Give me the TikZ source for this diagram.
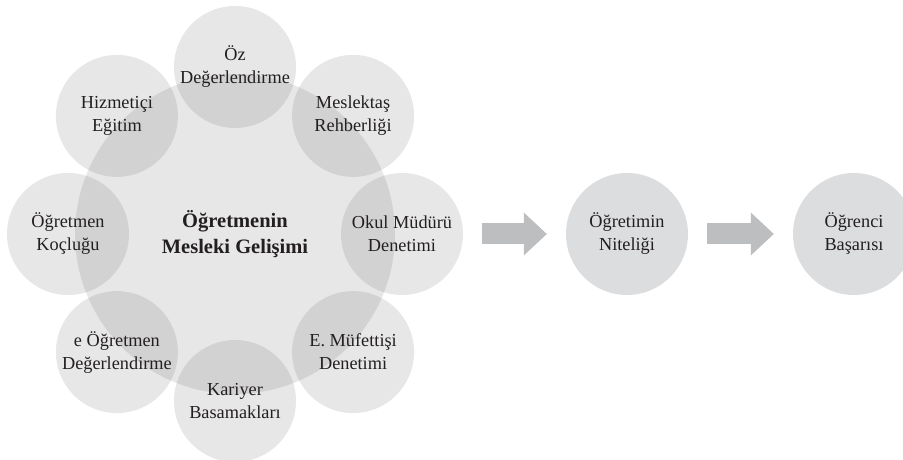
\documentclass[tikz,border=0pt]{standalone}
\usepackage{fontspec}
\setmainfont{Liberation Serif}
\usepackage{tikz}
\usetikzlibrary{arrows.meta}
\usepackage{xcolor}
\definecolor{cInk}{HTML}{231F20}
\definecolor{cShade}{HTML}{444546}
\definecolor{cDisc}{HTML}{DCDDDE}
\definecolor{cArrow}{HTML}{BCBEC0}

\begin{document}
\begin{tikzpicture}[x=1pt, y=1pt,
    disc/.style={circle, inner sep=0pt, minimum size=122pt, align=center, text=cInk,
                 font=\fontsize{18.3}{23}\selectfont},
    petal/.style={disc, fill=cShade, fill opacity=0.13, text opacity=1},
    flow/.style={draw=cArrow, line width=21pt,
                 -{Triangle[length=23pt, width=43pt, line width=0pt]},
                 shorten <=19pt, shorten >=19pt}]
  \useasboundingbox (0,0) rectangle (903,460);
  % big circle in the middle
  \node[petal, minimum size=320pt, font=\fontsize{20.5}{26}\selectfont\bfseries]
    (ring) at (235,226) {Öğretmenin\\Mesleki Gelişimi};
  % the eight circles round it
  \foreach \ang/\nm/\txt in {90/oz/{Öz\\Değerlendirme}, 45/meslektas/{Meslektaş\\Rehberliği},
      0/okul/{Okul Müdürü\\Denetimi}, -45/mufettis/{E. Müfettişi\\Denetimi},
      -90/kariyer/{Kariyer\\Basamakları}, -135/eogretmen/{e Öğretmen\\Değerlendirme},
      180/koc/{Öğretmen\\Koçluğu}, 135/hizmet/{Hizmetiçi\\Eğitim}}
    \node[petal] (\nm) at ([shift={(\ang:167)}]ring.center) {\txt};
  % outcomes
  \node[disc, fill=cDisc] (nitelik) at (627,226) {Öğretimin\\Niteliği};
  \node[disc, fill=cDisc] (basari) at (854,226) {Öğrenci\\Başarısı};
  \draw[flow] (okul) -- (nitelik);
  \draw[flow] (nitelik) -- (basari);
\end{tikzpicture}
\end{document}
